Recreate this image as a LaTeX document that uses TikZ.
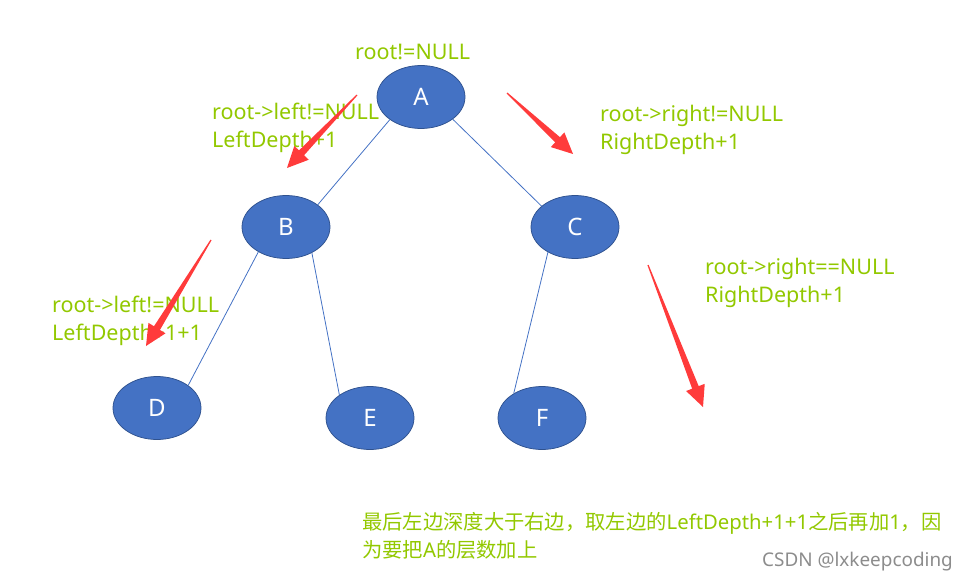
\documentclass[tikz,border=0pt]{standalone}
\usepackage{fontspec}
\setmainfont{Noto Sans}
\newfontfamily\cjk{Noto Sans CJK SC}
\usepackage{xcolor}
\usetikzlibrary{shapes.geometric,calc}

\definecolor{nodeblue}{HTML}{4472C4}
\definecolor{nodeedge}{HTML}{2F528F}
\definecolor{labelgreen}{HTML}{92C800}
\definecolor{arrowred}{HTML}{FF3B3B}

% tapered red arrow from #1 (tail) to #2 (tip)
\newcommand{\redarrow}[2]{%
  \coordinate (ah) at ($(#2)!21pt!(#1)$);
  \fill[arrowred] ($(#1)!0.6pt!90:(#2)$) -- ($(ah)!3.5pt!90:(#2)$) -- ($(ah)!10pt!90:(#2)$)
    -- (#2) -- ($(ah)!10pt!-90:(#2)$) -- ($(ah)!3.5pt!-90:(#2)$) -- ($(#1)!0.6pt!-90:(#2)$) -- cycle;
}

\begin{document}
\begin{tikzpicture}[x=1pt, y=-1pt,
    treenode/.style={ellipse, fill=nodeblue, draw=nodeedge, line width=0.75pt,
      minimum width=88pt, minimum height=63pt, text=white, font=\fontsize{24}{28}\selectfont},
    edgeline/.style={nodeblue, line width=0.8pt},
    cond/.style={text=labelgreen, font=\fontsize{21.5}{28}\selectfont, align=left,
      inner sep=0pt, anchor=west}]
  \useasboundingbox (0,0) rectangle (967,583);

  \node[treenode] (A) at (421,97) {A};
  \node[treenode] (B) at (286,227) {B};
  \node[treenode] (C) at (575,227) {C};
  \node[treenode] (D) at (157,408) {D};
  \node[treenode] (E) at (370,418) {E};
  \node[treenode] (F) at (542,418) {F};

  \draw[edgeline] (A.216) -- (B.35);
  \draw[edgeline] (A.325) -- (C.148);
  \draw[edgeline] (B.222) -- (D.36);
  \draw[edgeline] (B.315) -- (E.143);
  \draw[edgeline] (C.223) -- (F.139);

  \node[cond] (rootlbl) at (355,52) {root!=NULL};
  \node[cond] (leftlbl) at (212,128) {root->left!=NULL\\LeftDepth+1};
  \node[cond] (rightlbl) at (600,130) {root->right!=NULL\\RightDepth+1};
  \node[cond] (nullright) at (705,283) {root->right==NULL\\RightDepth+1};
  \node[cond] (leftleft) at (52,321) {root->left!=NULL\\LeftDepth+1+1};
  \node[cond, font=\fontsize{20.3}{28}\selectfont] (summary) at (362,536)
    {{\cjk 最后左边深度大于右边，取左边的}LeftDepth+1+1{\cjk 之后再加}1{\cjk ，因}\\
     {\cjk 为要把}A{\cjk 的层数加上}};
  \node[anchor=west, inner sep=0pt, text=black!45, font=\fontsize{18.9}{22}\selectfont]
    (mark) at (762,562) {CSDN @lxkeepcoding};

  \coordinate (t1) at (357,95);  \coordinate (p1) at (287,168);
  \coordinate (t2) at (507,93);  \coordinate (p2) at (573,154);
  \coordinate (t3) at (211,240); \coordinate (p3) at (146,346);
  \coordinate (t4) at (648,265); \coordinate (p4) at (703,407);
  \redarrow{t1}{p1}
  \redarrow{t2}{p2}
  \redarrow{t3}{p3}
  \redarrow{t4}{p4}
\end{tikzpicture}
\end{document}
